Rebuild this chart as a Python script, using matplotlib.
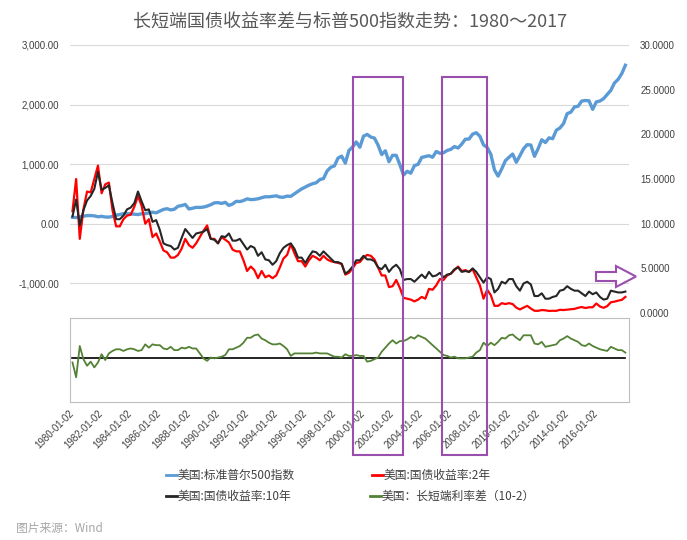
import numpy as np
import matplotlib
matplotlib.use("Agg")
import matplotlib.pyplot as plt
from matplotlib.lines import Line2D
from matplotlib.patches import Rectangle, Polygon

plt.rcParams['font.family'] = ['Liberation Sans', 'Noto Sans CJK SC', 'DejaVu Sans']
CJK = ['Noto Sans CJK SC', 'DejaVu Sans']

# quarterly readings, 1980-01 .. 2018-01
sp500 = [108, 102, 114, 125,   136, 136, 131, 116,   123, 112, 110, 120,
         141, 153, 168, 166,   165, 159, 153, 166,   167, 181, 192, 182,
         211, 239, 251, 231,   242, 292, 304, 322,   247, 259, 274, 272,
         278, 295, 318, 349,   353, 340, 358, 306,   330, 375, 371, 388,
         417, 404, 408, 418,   436, 452, 451, 459,   467, 446, 444, 463,
         459, 501, 545, 584,   616, 646, 671, 687,   741, 757, 885, 947,
         970, 1102, 1134, 1017, 1229, 1286, 1373, 1283, 1469, 1499, 1455, 1437,
         1320, 1160, 1224, 1041, 1148, 1147, 990, 815, 880, 848, 975, 996,
         1112, 1126, 1141, 1115, 1212, 1181, 1191, 1229, 1248, 1295, 1270, 1336,
         1418, 1421, 1503, 1527, 1468, 1323, 1280, 1166, 903, 798, 919, 1057,
         1115, 1169, 1031, 1141, 1258, 1326, 1321, 1131, 1258, 1409, 1362, 1441,
         1426, 1569, 1606, 1682, 1848, 1872, 1960, 1972, 2059, 2068, 2063, 1920,
         2044, 2060, 2099, 2168, 2239, 2363, 2423, 2519, 2660]

ten_yr = [10.8, 12.7, 9.8, 11.5,  12.6, 13.1, 13.9, 15.8,  13.8, 14.0, 14.3, 12.3,
          10.5, 10.5, 10.9, 11.6,  11.8, 12.3, 13.6, 12.5,  11.5, 11.6, 10.2, 10.4,
          9.3, 7.8, 7.6, 7.5,  7.1, 7.3, 8.4, 9.4,  8.9, 8.4, 8.9, 9.0,
          9.1, 9.4, 8.3, 8.2,  7.8, 8.6, 8.5, 8.9,  8.1, 8.1, 8.3, 7.7,
          7.1, 7.5, 7.3, 6.4,  6.8, 6.0, 5.9, 5.4,  5.8, 6.7, 7.3, 7.6,
          7.8, 7.2, 6.2, 6.2,  5.6, 6.3, 6.9, 6.8,  6.4, 6.9, 6.5, 6.1,
          5.7, 5.7, 5.5, 4.4,  4.7, 5.2, 5.9, 5.9,  6.4, 6.0, 6.0, 5.8,
          5.1, 4.9, 5.4, 4.6,  5.1, 5.4, 4.9, 3.7,  3.8, 3.8, 3.5, 3.9,
          4.3, 3.9, 4.6, 4.1,  4.2, 4.5, 4.0, 4.3,  4.4, 4.9, 5.1, 4.6,
          4.7, 4.6, 5.0, 4.6,  4.0, 3.4, 4.0, 3.8,  2.3, 2.7, 3.5, 3.3,
          3.8, 3.8, 3.0, 2.5,  3.3, 3.5, 3.2, 1.9,  1.9, 2.2, 1.6, 1.6,
          1.8, 1.9, 2.5, 2.6,  3.0, 2.7, 2.5, 2.5,  2.2, 1.9, 2.4, 2.1,
          2.3, 1.8, 1.5, 1.6,  2.5, 2.4, 2.3, 2.3,  2.4]

two_yr = [11.4, 15.0, 8.3, 11.6,  13.6, 13.5, 15.0, 16.5,  13.4, 14.4, 14.6, 11.5,
          9.7, 9.7, 10.5, 10.9,  11.0, 11.9, 13.1, 12.0,  10.0, 10.5, 8.5, 8.9,
          8.0, 7.0, 6.8, 6.2,  6.2, 6.5, 7.2, 8.3,  7.6, 7.3, 7.8, 8.5,
          9.2, 9.8, 8.3, 8.3,  7.8, 8.5, 8.2, 7.9,  7.1, 6.9, 6.9, 5.9,
          4.7, 5.2, 4.8, 3.9,  4.7, 4.0, 4.2, 3.9,  4.2, 5.1, 6.1, 6.5,
          7.7, 6.7, 5.8, 5.8,  5.2, 5.9, 6.4, 6.2,  5.9, 6.4, 6.0, 5.8,
          5.7, 5.6, 5.5, 4.3,  4.5, 5.0, 5.6, 5.7,  6.2, 6.5, 6.4, 6.0,
          5.1, 4.2, 4.2, 2.9,  3.0, 3.7, 2.8, 1.7,  1.6, 1.5, 1.3, 1.5,
          1.8, 1.6, 2.7, 2.6,  3.1, 3.8, 3.7, 4.2,  4.4, 4.8, 5.2, 4.7,
          4.8, 4.6, 4.9, 4.0,  3.1, 1.6, 2.6, 2.0,  0.8, 0.8, 1.1, 1.0,
          1.1, 1.0, 0.6, 0.4,  0.6, 0.8, 0.5, 0.25,  0.24, 0.33, 0.30, 0.23,
          0.25, 0.24, 0.36, 0.33,  0.38, 0.42, 0.46, 0.58,  0.67, 0.56, 0.64, 0.64,
          1.06, 0.73, 0.58, 0.77,  1.20, 1.27, 1.38, 1.47,  1.8]

spread = [-0.6, -2.4, 1.4, -0.2,  -1.0, -0.5, -1.2, -0.6,  0.4, -0.3, 0.5, 0.8,
          1.0, 1.0, 0.8, 1.0,  1.1, 1.0, 0.8, 0.9,  1.6, 1.2, 1.6, 1.5,
          1.5, 1.1, 1.0, 1.3,  0.9, 0.9, 1.2, 1.1,  1.3, 1.1, 1.1, 0.5,
          -0.1, -0.4, 0.0, -0.1,  0.0, 0.1, 0.3, 1.0,  1.0, 1.2, 1.4, 1.8,
          2.4, 2.4, 2.7, 2.8,  2.3, 2.1, 1.8, 1.6,  1.6, 1.7, 1.4, 1.0,
          0.2, 0.5, 0.5, 0.5,  0.5, 0.5, 0.5, 0.6,  0.5, 0.5, 0.5, 0.3,
          0.1, 0.1, 0.0, 0.4,  0.2, 0.2, 0.3, 0.2,  0.2, -0.5, -0.4, -0.2,
          0.0, 0.7, 1.2, 1.7,  2.1, 1.7, 2.0, 2.0,  2.2, 2.5, 2.3, 2.7,
          2.5, 2.3, 1.9, 1.5,  1.1, 0.7, 0.3, 0.2,  0.0, 0.1, -0.1, -0.1,
          -0.1, 0.0, 0.1, 0.6,  0.9, 1.8, 1.4, 1.8,  1.5, 1.9, 2.4, 2.3,
          2.7, 2.8, 2.4, 2.1,  2.7, 2.7, 2.7, 1.7,  1.6, 1.9, 1.3, 1.4,
          1.5, 1.6, 2.1, 2.3,  2.6, 2.3, 2.1, 1.9,  1.5, 1.4, 1.7, 1.4,
          1.2, 1.0, 0.9, 0.8,  1.3, 1.1, 0.9, 0.9,  0.6]

t = 1980 + 0.25 * np.arange(len(sp500))
tick_years = list(range(1980, 2017, 2))
tick_labels = [f"{y}-01-02" for y in tick_years]
left_ticks = [-1000, 0, 1000, 2000, 3000]
right_ticks = [0, 5, 10, 15, 20, 25, 30]

labels = ['美国:标准普尔500指数', '美国:国债收益率:2年',
          '美国:国债收益率:10年', '美国：长短端利率差（10-2）']
colors = ['#5b9bd5', '#ff0000', '#262626', '#548235']

W, H = 687, 540
fig = plt.figure(figsize=(W / 100, H / 100), dpi=100)


def fx(x):
    return x / W


def fy(y):
    return 1 - y / H


xlim = (1980 - 2.5 / 14.55, 1980 - 2.5 / 14.55 + 559 / 14.55)
txt = '#404040'

# top panel
ax = fig.add_axes([fx(70), fy(313), fx(629) - fx(70), fy(45) - fy(313)])
ax.plot(t, sp500, color=colors[0], lw=2.4)
ax.set_xlim(xlim)
ax.set_ylim(-1500, 3000)
ax.set_yticks(left_ticks)
ax.set_yticklabels([f"{v:,.2f}" for v in left_ticks], fontsize=7, color=txt)
ax.set_xticks([])
ax.tick_params(axis='y', length=0, pad=8)
ax.grid(axis='y', color='#d9d9d9', lw=0.8)
ax.set_axisbelow(True)
for s in ax.spines.values():
    s.set_visible(False)

ax_r = ax.twinx()
ax_r.plot(t, two_yr, color=colors[1], lw=1.6)
ax_r.plot(t, ten_yr, color=colors[2], lw=1.5)
ax_r.set_ylim(0, 30)
ax_r.set_yticks(right_ticks)
ax_r.set_yticklabels([f"{v:.4f}" for v in right_ticks], fontsize=7, color=txt)
ax_r.tick_params(axis='y', length=0, pad=8)
for s in ax_r.spines.values():
    s.set_visible(False)

# bottom panel: spread
ax2 = fig.add_axes([fx(70), fy(402), fx(629) - fx(70), fy(318) - fy(402)])
ax2.plot([t[0], t[-1]], [0, 0], color='black', lw=1.2)
ax2.plot(t, spread, color=colors[3], lw=1.3)
ax2.set_xlim(xlim)
ax2.set_ylim(-5.4, 4.8)
ax2.set_yticks([])
ax2.set_xticks(tick_years)
ax2.set_xticklabels(tick_labels, rotation=45, ha='right', va='center',
                    rotation_mode='anchor', fontsize=7, color=txt)
ax2.tick_params(axis='x', length=0, pad=7)
for s in ax2.spines.values():
    s.set_color('#bfbfbf')
    s.set_linewidth(0.8)

# title and source
fig.text(fx(350), fy(22), '长短端国债收益率差与标普500指数走势：1980～2017',
         ha='center', va='center', fontsize=13, color='#595959', family=CJK)
fig.text(fx(16), fy(528), '图片来源：Wind', ha='left', va='center',
         fontsize=8.5, color='#a6a6a6', family=CJK)

# legend
legend_pos = [(166, 475), (372, 475), (166, 496), (370, 496)]
for (lx, ly), lab, c in zip(legend_pos, labels, colors):
    fig.add_artist(Line2D([fx(lx), fx(lx + 11)], [fy(ly), fy(ly)],
                          color=c, lw=2, transform=fig.transFigure))
    fig.text(fx(lx + 12), fy(ly), lab, ha='left', va='center',
             fontsize=8.5, color=txt, family=CJK)

# purple highlight boxes
purple = '#9a4fae'
for x0, x1 in [(353, 403), (442, 487)]:
    fig.add_artist(Rectangle((fx(x0), fy(455)), fx(x1) - fx(x0), fy(77) - fy(455),
                             transform=fig.transFigure, fill=False,
                             edgecolor=purple, lw=1.5, zorder=10))

# hollow arrow pointing right
arrow_px = [(596, 272), (616, 272), (616, 266), (636, 276.5), (616, 287),
            (616, 281), (596, 281)]
fig.add_artist(Polygon([(fx(x), fy(y)) for x, y in arrow_px], closed=True,
                       transform=fig.transFigure, facecolor='white',
                       edgecolor=purple, lw=1.5, zorder=10))

fig.savefig('out.png', dpi=100, facecolor='white')
